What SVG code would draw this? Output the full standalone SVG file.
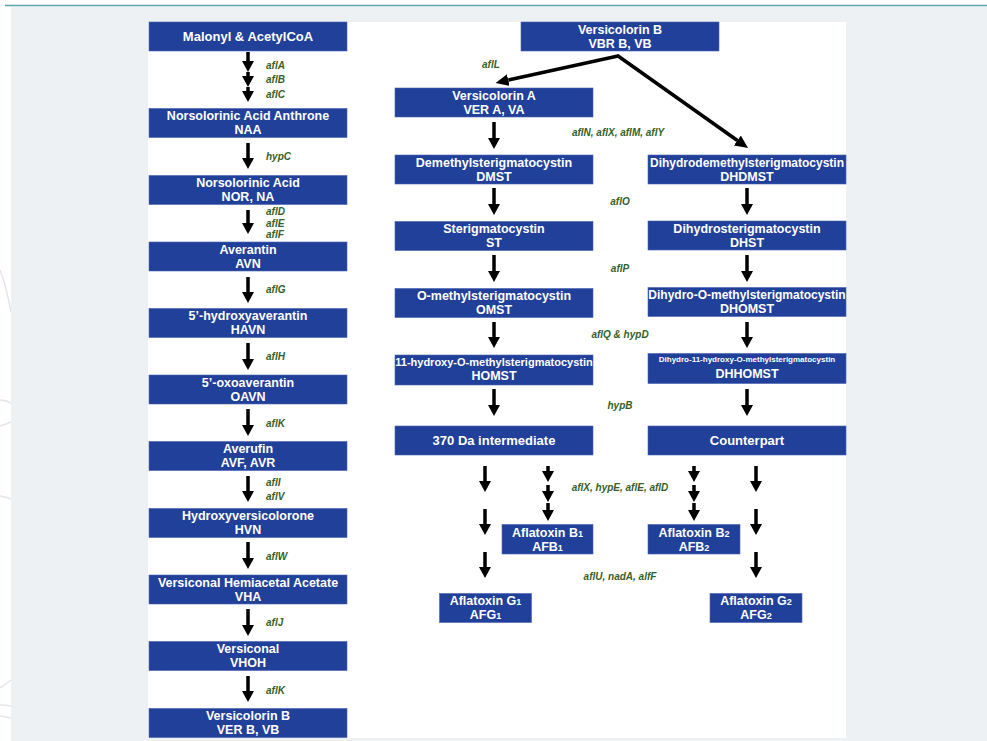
<svg xmlns="http://www.w3.org/2000/svg" width="987" height="741" viewBox="0 0 987 741">
<style>
.box{fill:#21409a;stroke:#4a63ad;stroke-width:0.6}
.t{font-family:"Liberation Sans",Arial,sans-serif;font-weight:bold;font-size:12.5px;fill:#ffffff;text-anchor:middle}
.lbl{font-family:"Liberation Sans",Arial,sans-serif;font-style:italic;font-weight:bold;font-size:10px;fill:#33612a}
.c{text-anchor:middle}
.ar{stroke:#000;stroke-width:3.5;fill:none}
.big{stroke:#000;stroke-width:3.5;fill:none}
.bg{fill:none;stroke:#e3e6ea;stroke-width:1.5}
.s{font-size:9px}
</style>
<defs>
<marker id="head" markerUnits="userSpaceOnUse" viewBox="0 -6 11 12" refX="0" refY="0" markerWidth="11" markerHeight="12" orient="auto">
<path d="M0,-6 L11,0 L0,6 z" fill="#000"/>
</marker>
<marker id="bighead" markerUnits="userSpaceOnUse" viewBox="0 -6 13 12" refX="0" refY="0" markerWidth="13" markerHeight="12" orient="auto">
<path d="M0,-6 L13,0 L0,6 z" fill="#000"/>
</marker>
</defs>
<rect x="0" y="0" width="987" height="741" fill="#ffffff"/>
<g id="background-arcs">
<path class="bg" d="M0,270 Q6,285 11,312"/>
<path class="bg" d="M0,400 Q6,400 11,403"/>
<path class="bg" d="M0,426 Q6,424 11,422"/>
<path class="bg" d="M0,496 Q6,497 11,499"/>
<path class="bg" d="M0,688 Q6,684 11,680"/>
<path class="bg" d="M0,705 Q6,705 11,706"/>
<path class="bg" d="M0,716 Q6,717 11,718"/>
</g>
<rect x="11" y="7" width="976" height="734" fill="#edf1f4"/>
<line x1="5" y1="5.5" x2="987" y2="5.5" stroke="#5aa6ae" stroke-width="1.6"/>
<rect x="148" y="22" width="698" height="716" fill="#ffffff"/>

<g id="connectors">
<line class="ar" x1="248" y1="52" x2="248" y2="61" marker-end="url(#head)"/>
<line class="ar" x1="248" y1="72" x2="248" y2="76" marker-end="url(#head)"/>
<line class="ar" x1="248" y1="87" x2="248" y2="91" marker-end="url(#head)"/>
<line class="ar" x1="248" y1="143" x2="248" y2="158" marker-end="url(#head)"/>
<line class="ar" x1="248" y1="210" x2="248" y2="223" marker-end="url(#head)"/>
<line class="ar" x1="248" y1="277" x2="248" y2="292" marker-end="url(#head)"/>
<line class="ar" x1="248" y1="343" x2="248" y2="359" marker-end="url(#head)"/>
<line class="ar" x1="248" y1="409" x2="248" y2="425" marker-end="url(#head)"/>
<line class="ar" x1="248" y1="476" x2="248" y2="491" marker-end="url(#head)"/>
<line class="ar" x1="248" y1="542" x2="248" y2="558" marker-end="url(#head)"/>
<line class="ar" x1="248" y1="609" x2="248" y2="625" marker-end="url(#head)"/>
<line class="ar" x1="248" y1="676" x2="248" y2="691" marker-end="url(#head)"/>
<line class="big" x1="618" y1="56" x2="508.3" y2="80.1" marker-end="url(#bighead)"/>
<line class="big" x1="617" y1="55.3" x2="737.4" y2="140.5" marker-end="url(#bighead)"/>
<line class="ar" x1="494" y1="122" x2="494" y2="138" marker-end="url(#head)"/>
<line class="ar" x1="494" y1="188" x2="494" y2="204" marker-end="url(#head)"/>
<line class="ar" x1="494" y1="255" x2="494" y2="271" marker-end="url(#head)"/>
<line class="ar" x1="494" y1="322" x2="494" y2="337" marker-end="url(#head)"/>
<line class="ar" x1="494" y1="389" x2="494" y2="405" marker-end="url(#head)"/>
<line class="ar" x1="747" y1="188" x2="747" y2="204" marker-end="url(#head)"/>
<line class="ar" x1="747" y1="255" x2="747" y2="271" marker-end="url(#head)"/>
<line class="ar" x1="747" y1="322" x2="747" y2="337" marker-end="url(#head)"/>
<line class="ar" x1="747" y1="389" x2="747" y2="405" marker-end="url(#head)"/>
<line class="ar" x1="485" y1="466" x2="485" y2="481" marker-end="url(#head)"/>
<line class="ar" x1="485" y1="509" x2="485" y2="524" marker-end="url(#head)"/>
<line class="ar" x1="485" y1="552" x2="485" y2="567" marker-end="url(#head)"/>
<line class="ar" x1="548" y1="466" x2="548" y2="471" marker-end="url(#head)"/>
<line class="ar" x1="548" y1="485" x2="548" y2="491" marker-end="url(#head)"/>
<line class="ar" x1="548" y1="503" x2="548" y2="510" marker-end="url(#head)"/>
<line class="ar" x1="694" y1="466" x2="694" y2="471" marker-end="url(#head)"/>
<line class="ar" x1="694" y1="485" x2="694" y2="491" marker-end="url(#head)"/>
<line class="ar" x1="694" y1="503" x2="694" y2="510" marker-end="url(#head)"/>
<line class="ar" x1="756" y1="466" x2="756" y2="481" marker-end="url(#head)"/>
<line class="ar" x1="756" y1="509" x2="756" y2="524" marker-end="url(#head)"/>
<line class="ar" x1="756" y1="552" x2="756" y2="567" marker-end="url(#head)"/>
</g>

<g id="labels">
<text class="lbl" x="266" y="69">aflA</text>
<text class="lbl" x="266" y="83">aflB</text>
<text class="lbl" x="266" y="97.5">aflC</text>
<text class="lbl" x="266" y="160">hypC</text>
<text class="lbl" x="266" y="215">aflD</text>
<text class="lbl" x="266" y="226.5">aflE</text>
<text class="lbl" x="266" y="238">aflF</text>
<text class="lbl" x="266" y="293">aflG</text>
<text class="lbl" x="266" y="360">aflH</text>
<text class="lbl" x="266" y="427">aflK</text>
<text class="lbl" x="266" y="486">aflI</text>
<text class="lbl" x="266" y="500">aflV</text>
<text class="lbl" x="266" y="560">aflW</text>
<text class="lbl" x="266" y="626">aflJ</text>
<text class="lbl" x="266" y="694">aflK</text>
<text class="lbl" x="482" y="68">aflL</text>
<text class="lbl c" x="618" y="136">aflN, aflX, aflM, aflY</text>
<text class="lbl c" x="620" y="205">aflO</text>
<text class="lbl c" x="620" y="272">aflP</text>
<text class="lbl c" x="620" y="338">aflQ &amp; hypD</text>
<text class="lbl c" x="620" y="409">hypB</text>
<text class="lbl c" x="620" y="491">aflX, hypE, aflE, aflD</text>
<text class="lbl c" x="620" y="580">aflU, nadA, alfF</text>
</g>

<g id="malonyl"><rect class="box" x="149" y="22" width="198" height="29"/><text class="t" x="248" y="40.5" style="font-size:13px">Malonyl &amp; AcetylCoA</text></g>
<g id="naa"><rect class="box" x="149" y="108.5" width="198" height="29"/><text class="t" x="248" y="120">Norsolorinic Acid Anthrone</text><text class="t" x="248" y="134">NAA</text></g>
<g id="nor"><rect class="box" x="149" y="175.5" width="198" height="29"/><text class="t" x="248" y="187">Norsolorinic Acid</text><text class="t" x="248" y="201">NOR, NA</text></g>
<g id="avn"><rect class="box" x="149" y="242" width="198" height="29"/><text class="t" x="248" y="253.5">Averantin</text><text class="t" x="248" y="267.5">AVN</text></g>
<g id="havn"><rect class="box" x="149" y="308.5" width="198" height="29"/><text class="t" x="248" y="320">5’-hydroxyaverantin</text><text class="t" x="248" y="334">HAVN</text></g>
<g id="oavn"><rect class="box" x="149" y="375" width="198" height="29"/><text class="t" x="248" y="386.5">5’-oxoaverantin</text><text class="t" x="248" y="400.5">OAVN</text></g>
<g id="avf"><rect class="box" x="149" y="441.5" width="198" height="29"/><text class="t" x="248" y="453">Averufin</text><text class="t" x="248" y="467">AVF, AVR</text></g>
<g id="hvn"><rect class="box" x="149" y="508.5" width="198" height="29"/><text class="t" x="248" y="520">Hydroxyversicolorone</text><text class="t" x="248" y="534">HVN</text></g>
<g id="vha"><rect class="box" x="149" y="575" width="198" height="29"/><text class="t" x="248" y="586.5">Versiconal Hemiacetal Acetate</text><text class="t" x="248" y="600.5">VHA</text></g>
<g id="vhoh"><rect class="box" x="149" y="641.5" width="198" height="29"/><text class="t" x="248" y="653">Versiconal</text><text class="t" x="248" y="667">VHOH</text></g>
<g id="verb-left"><rect class="box" x="149" y="708.5" width="198" height="29"/><text class="t" x="248" y="720">Versicolorin B</text><text class="t" x="248" y="734">VER B, VB</text></g>

<g id="verb-right"><rect class="box" x="521" y="22" width="198" height="29"/><text class="t" x="620" y="33.5">Versicolorin B</text><text class="t" x="620" y="47.5">VBR B, VB</text></g>
<g id="vera"><rect class="box" x="395" y="88" width="198" height="29"/><text class="t" x="494" y="99.5">Versicolorin A</text><text class="t" x="494" y="113.5">VER A, VA</text></g>
<g id="dmst"><rect class="box" x="395" y="155" width="198" height="29"/><text class="t" x="494" y="166.5">Demethylsterigmatocystin</text><text class="t" x="494" y="180.5">DMST</text></g>
<g id="dhdmst"><rect class="box" x="648" y="155" width="198" height="29"/><text class="t" x="747" y="166.5" style="font-size:12px">Dihydrodemethylsterigmatocystin</text><text class="t" x="747" y="180.5">DHDMST</text></g>
<g id="st"><rect class="box" x="395" y="221.5" width="198" height="29"/><text class="t" x="494" y="233">Sterigmatocystin</text><text class="t" x="494" y="247">ST</text></g>
<g id="dhst"><rect class="box" x="648" y="221" width="198" height="29"/><text class="t" x="747" y="232.5">Dihydrosterigmatocystin</text><text class="t" x="747" y="246.5">DHST</text></g>
<g id="omst"><rect class="box" x="395" y="288.5" width="198" height="29"/><text class="t" x="494" y="300">O-methylsterigmatocystin</text><text class="t" x="494" y="314">OMST</text></g>
<g id="dhomst"><rect class="box" x="648" y="287.5" width="198" height="29"/><text class="t" x="747" y="299" style="font-size:12px">Dihydro-O-methylsterigmatocystin</text><text class="t" x="747" y="313">DHOMST</text></g>
<g id="homst"><rect class="box" x="395" y="355" width="198" height="30"/><text class="t" x="494" y="365.5" style="font-size:11px">11-hydroxy-O-methylsterigmatocystin</text><text class="t" x="494" y="380">HOMST</text></g>
<g id="dhhomst"><rect class="box" x="648" y="353.5" width="198" height="30"/><text class="t" x="747" y="362" style="font-size:8px">Dihydro-11-hydroxy-O-methylsterigmatocystin</text><text class="t" x="747" y="378">DHHOMST</text></g>
<g id="da370"><rect class="box" x="395" y="426" width="198" height="29"/><text class="t" x="494" y="445" style="font-size:13px">370 Da intermediate</text></g>
<g id="counterpart"><rect class="box" x="648" y="426" width="198" height="29"/><text class="t" x="747" y="445" style="font-size:13px">Counterpart</text></g>
<g id="afb1"><rect class="box" x="502" y="524.5" width="91" height="29.5"/><text class="t" x="547.5" y="536.5">Aflatoxin B<tspan class="s">1</tspan></text><text class="t" x="547.5" y="550.5">AFB<tspan class="s">1</tspan></text></g>
<g id="afb2"><rect class="box" x="648" y="524.5" width="92" height="29.5"/><text class="t" x="694" y="536.5">Aflatoxin B<tspan class="s">2</tspan></text><text class="t" x="694" y="550.5">AFB<tspan class="s">2</tspan></text></g>
<g id="afg1"><rect class="box" x="439.5" y="593.5" width="92" height="29"/><text class="t" x="485.5" y="605">Aflatoxin G<tspan class="s">1</tspan></text><text class="t" x="485.5" y="619">AFG<tspan class="s">1</tspan></text></g>
<g id="afg2"><rect class="box" x="710" y="593.5" width="92" height="29"/><text class="t" x="756" y="605">Aflatoxin G<tspan class="s">2</tspan></text><text class="t" x="756" y="619">AFG<tspan class="s">2</tspan></text></g>
</svg>
